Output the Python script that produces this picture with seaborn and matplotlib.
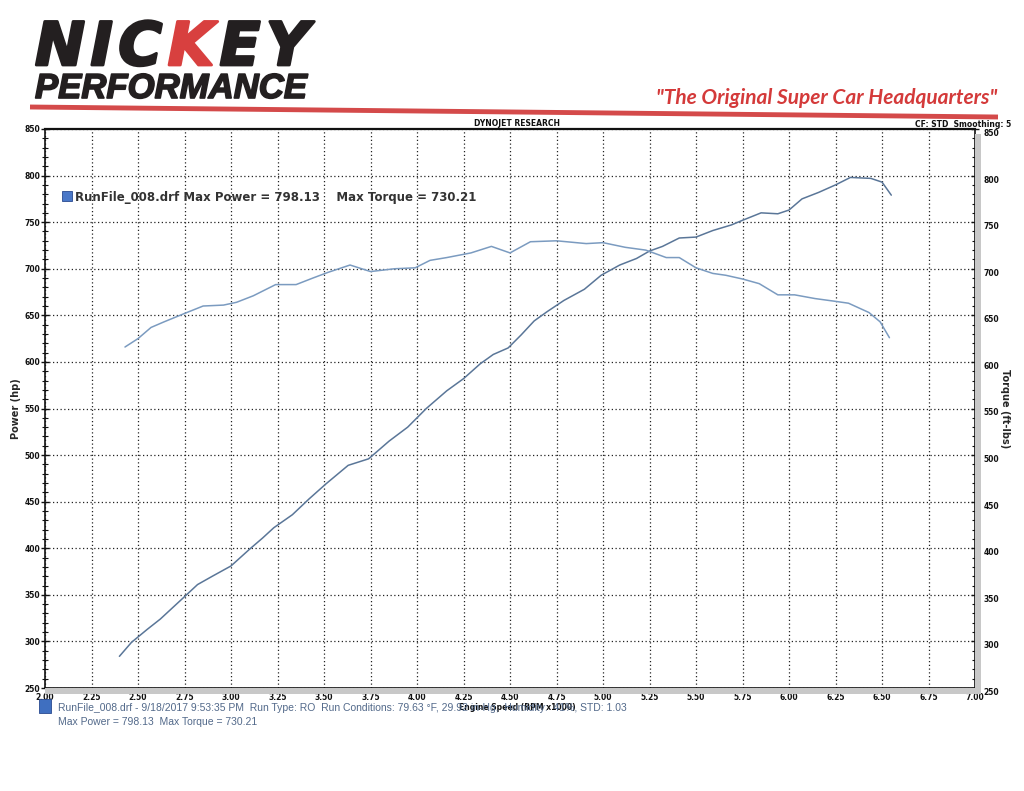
import numpy as np
import pandas as pd
import matplotlib
matplotlib.use("Agg")
import matplotlib.pyplot as plt
from matplotlib.patches import Rectangle
from matplotlib.lines import Line2D
import matplotlib.patheffects as pe
import seaborn as sns

# ---------------- data ----------------
power_rpm = [2.40, 2.465, 2.55, 2.62, 2.75, 2.82, 2.90, 3.00, 3.10, 3.17, 3.23, 3.33,
             3.42, 3.51, 3.63, 3.74, 3.85, 3.95, 4.05, 4.16, 4.25, 4.34, 4.41, 4.49,
             4.56, 4.63, 4.70, 4.79, 4.90, 4.99, 5.09, 5.18, 5.25, 5.32, 5.41, 5.50,
             5.59, 5.69, 5.75, 5.85, 5.94, 6.00, 6.07, 6.16, 6.25, 6.33, 6.44, 6.50, 6.55]
power_hp = [284, 299, 313, 324, 348, 361, 370, 381, 399, 411, 422, 436,
            453, 469, 489, 496, 515, 530, 550, 569, 582, 598, 608, 615,
            629, 644, 654, 666, 678, 693, 704, 711, 719, 724, 733, 734,
            741, 747, 752, 760, 759, 763, 775, 782, 790, 798, 797, 793, 779]

torque_rpm = [2.43, 2.50, 2.57, 2.64, 2.75, 2.85, 2.96, 3.03, 3.12, 3.24, 3.35, 3.44,
              3.52, 3.64, 3.75, 3.88, 3.99, 4.07, 4.16, 4.29, 4.40, 4.50, 4.61, 4.75,
              4.91, 5.00, 5.12, 5.23, 5.34, 5.41, 5.50, 5.59, 5.66, 5.75, 5.84, 5.94,
              6.03, 6.14, 6.25, 6.32, 6.43, 6.49, 6.54]
torque_ftlb = [616, 625, 637, 643, 652, 660, 661, 664, 671, 683, 683, 690,
               696, 704, 697, 700, 701, 709, 712, 717, 724, 717, 729, 730,
               727, 728, 723, 720, 712, 712, 701, 695, 693, 689, 684, 672,
               672, 668, 665, 663, 653, 643, 626]

x_ticks = ["2.00", "2.25", "2.50", "2.75", "3.00", "3.25", "3.50", "3.75", "4.00", "4.25",
           "4.50", "4.75", "5.00", "5.25", "5.50", "5.75", "6.00", "6.25", "6.50", "6.75", "7.00"]
y_ticks = [250, 300, 350, 400, 450, 500, 550, 600, 650, 700, 750, 800, 850]

run_name = "RunFile_008.drf"
max_power = "798.13"
max_torque = "730.21"
logo_letters = ["N", "I", "C", "K", "E", "Y"]

# ---------------- style ----------------
sns.set_style("white")
plt.rcParams['font.family'] = ['DejaVu Sans']

W, H = 1024, 791
fig = plt.figure(figsize=(10.24, 7.91), dpi=100)
ax_l, ax_r, ax_t, ax_b = 45, 975, 129, 688
ax = fig.add_axes([ax_l / W, 1 - ax_b / H, (ax_r - ax_l) / W, (ax_b - ax_t) / H])

df_p = pd.DataFrame({"rpm": power_rpm, "val": power_hp})
df_t = pd.DataFrame({"rpm": torque_rpm, "val": torque_ftlb})
sns.lineplot(data=df_p, x="rpm", y="val", ax=ax, color="#5a7698", lw=1.1, sort=False)
sns.lineplot(data=df_t, x="rpm", y="val", ax=ax, color="#7b9bc0", lw=1.1, sort=False)

ax.set_xlim(2, 7)
ax.set_ylim(250, 850)
xt = [float(s) for s in x_ticks]
ax.set_xticks(xt)
ax.set_xticklabels(x_ticks)
ax.set_xticks(np.arange(2, 7.001, 0.05), minor=True)
ax.set_yticks(y_ticks)
ax.set_yticklabels([str(v) for v in y_ticks])
ax.set_yticks(np.arange(250, 851, 10), minor=True)

ax.grid(True, which='major', linestyle=(0, (1, 2)), color='#222222', lw=0.9)
ax.tick_params(axis='both', which='major', direction='inout', length=6, width=1.0,
               labelsize=5.5, colors='#111111', pad=0.5)
ax.tick_params(axis='both', which='minor', direction='inout', length=5, width=0.8, colors='#111111')
for lab in ax.get_xticklabels() + ax.get_yticklabels():
    lab.set_fontweight('bold')
ax.set_xlabel("")
for s in ax.spines.values():
    s.set_color('#111111')
    s.set_linewidth(1.2)
ax.spines['top'].set_linewidth(1.6)

# right axis labels
ax2 = ax.twinx()
ax2.set_ylim(250, 850)
ax2.set_yticks(y_ticks)
ax2.set_yticklabels([str(v) for v in y_ticks])
ax2.set_yticks(np.arange(250, 851, 10), minor=True)
ax2.tick_params(axis='y', which='major', direction='inout', length=6, width=1.0,
                labelsize=5.5, colors='#111111', pad=3)
ax2.tick_params(axis='y', which='minor', direction='inout', length=5, width=0.8, colors='#111111')
for lab in ax2.get_yticklabels():
    lab.set_fontweight('bold')
    lab.set_verticalalignment('top')
for s in ax2.spines.values():
    s.set_visible(False)

# shadows right and bottom
fig.patches.append(Rectangle((ax_r / W, 1 - (ax_b + 5) / H), 6 / W, (ax_b - ax_t) / H, transform=fig.transFigure,
                             facecolor='#c8c8c8', edgecolor='none', zorder=0))
fig.patches.append(Rectangle((ax_l / W, 1 - (ax_b + 6) / H), (ax_r - ax_l + 6) / W, 6 / H, transform=fig.transFigure,
                             facecolor='#c8c8c8', edgecolor='none', zorder=0))

ax.set_ylabel("Power (hp)", fontsize=7, fontweight='bold', labelpad=2)
ax2.set_ylabel("Torque (ft-lbs)", fontsize=7, fontweight='bold', rotation=-90, labelpad=8)

fig.text(0.505, 1 - 124 / H, "DYNOJET RESEARCH", fontsize=5.5, fontweight='bold', ha='center', va='center', color='#111')
fig.text(0.988, 1 - 124.5 / H, "CF: STD  Smoothing: 5", fontsize=5.5, fontweight='bold', ha='right', va='center', color='#111')
fig.text(0.505, 1 - 707 / H, "Engine Speed (RPM x1000)", fontsize=5.5, fontweight='bold', ha='center', va='center', color='#111')

# inside legend
fig.patches.append(Rectangle((62 / W, 1 - 201 / H), 10 / W, 10 / H, transform=fig.transFigure,
                             facecolor='#4a78c8', edgecolor='#2a4a90', lw=0.6, zorder=5))
fig.text(75 / W, 1 - 197 / H, f"{run_name} Max Power = {max_power}    Max Torque = {max_torque}",
         fontsize=8.5, fontweight='bold', color='#333333', va='center', ha='left')

# bottom info
fig.patches.append(Rectangle((39 / W, 1 - 713 / H), 12 / W, 14 / H, transform=fig.transFigure,
                             facecolor='#3f6fc0', edgecolor='#2a4a90', lw=0.6))
fig.text(58 / W, 1 - 708 / H,
         f"{run_name} - 9/18/2017 9:53:35 PM  Run Type: RO  Run Conditions: 79.63 \u00b0F, 29.92 in-Hg,  Humidity:  41%, STD: 1.03",
         fontsize=7.5, color='#52698a', family='Liberation Sans', va='center', ha='left')
fig.text(58 / W, 1 - 722 / H, f"Max Power = {max_power}  Max Torque = {max_torque}",
         fontsize=7.5, color='#52698a', family='Liberation Sans', va='center', ha='left')

# ---------------- header ----------------
hdr = fig.add_axes([0, 0, 1, 1])
hdr.set_axis_off()
hdr.set_xlim(0, 1)
hdr.set_ylim(0, 1)
dark = '#231f20'
red = '#d8403f'
logo_kw = dict(family='DejaVu Sans', fontweight='bold', style='oblique', fontsize=43)
prev = None
for ch in logo_letters:
    col = red if ch == "K" else dark
    eff = [pe.withStroke(linewidth=2.0, foreground=col)]
    if prev is None:
        prev = hdr.text(35 / W, 1 - 65 / H, ch, color=col, va='baseline', ha='left',
                        path_effects=eff, **logo_kw)
    else:
        prev = hdr.annotate(ch, xy=(1, 0), xycoords=prev, xytext=(4, 0), textcoords='offset points',
                            va='bottom', ha='left', color=col, path_effects=eff, **logo_kw)
hdr.text(35 / W, 1 - 98 / H, "PERFORMANCE", color=dark, va='baseline', ha='left',
         family='Liberation Sans', fontweight='bold', style='italic', fontsize=25,
         path_effects=[pe.withStroke(linewidth=1.2, foreground=dark)])

hdr.add_line(Line2D([30 / W, 998 / W], [1 - 107 / H, 1 - 117 / H], color='#d44a4a', lw=3.5, solid_capstyle='butt'))
hdr.text(997 / W, 1 - 104 / H, "\"The Original Super Car Headquarters\"", color='#d43a3a',
         family='Lato', fontweight='bold', style='italic', fontsize=15, ha='right', va='baseline')

fig.savefig("out.png", dpi=100, facecolor='white')
